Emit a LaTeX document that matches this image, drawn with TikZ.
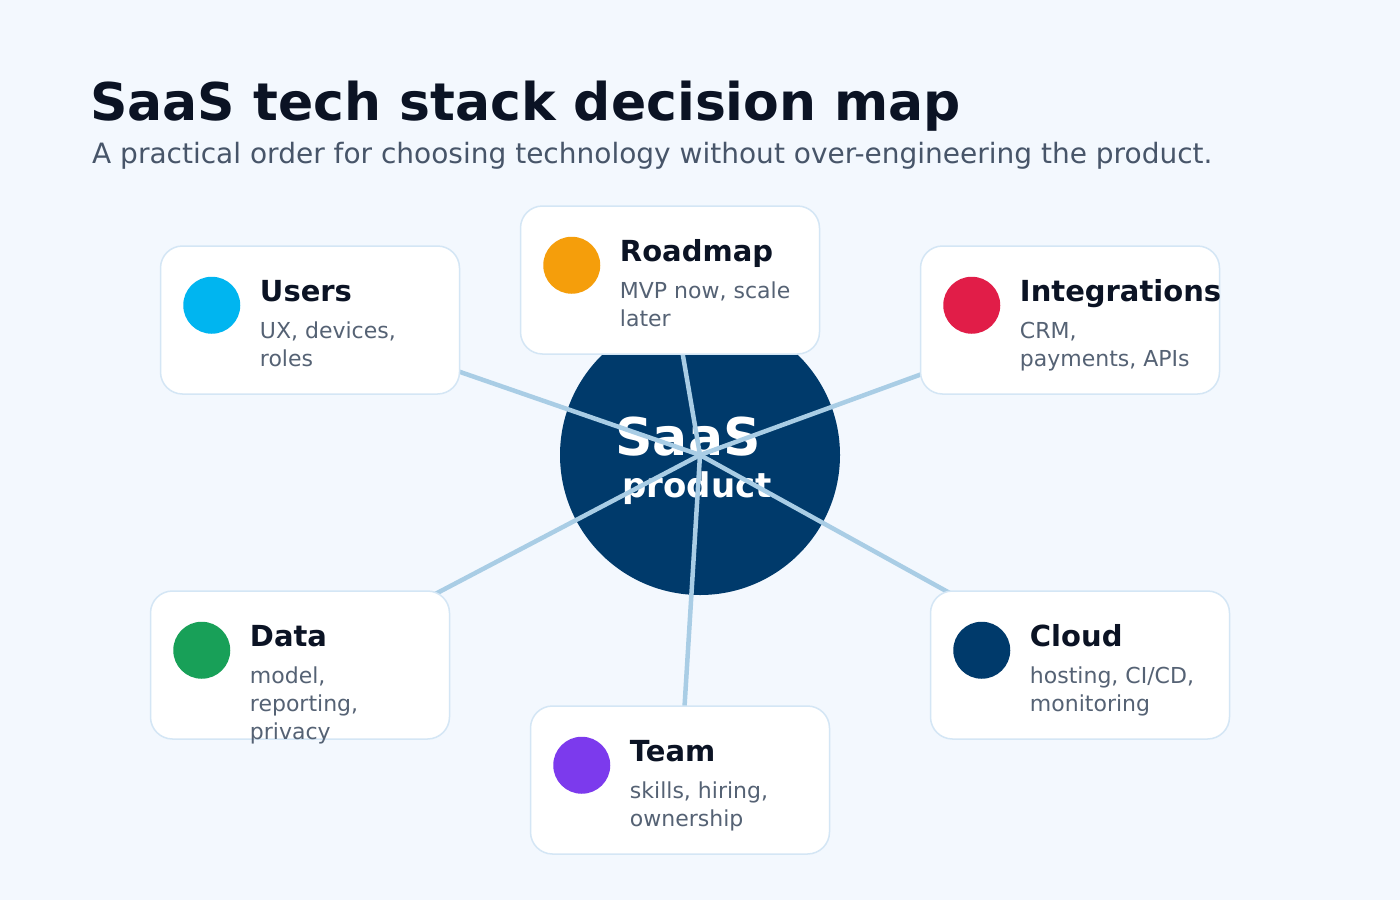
\documentclass[tikz,border=0pt]{standalone}
\usepackage{fontspec}
\setmainfont{DejaVu Sans}
\usetikzlibrary{positioning}
\definecolor{bgc}{HTML}{F3F8FE}
\definecolor{hubc}{HTML}{003A6B}
\definecolor{linkc}{HTML}{A9CDE5}
\definecolor{boxline}{HTML}{D4E6F5}
\definecolor{titlec}{HTML}{0B1324}
\definecolor{subc}{HTML}{475569}
\definecolor{descc}{HTML}{556274}
\definecolor{cusers}{HTML}{00B5F0}
\definecolor{croad}{HTML}{F59E0B}
\definecolor{cint}{HTML}{E11D48}
\definecolor{cdata}{HTML}{18A058}
\definecolor{cteam}{HTML}{7C3AED}
\definecolor{ccloud}{HTML}{003A6B}
\pgfdeclarelayer{back}
\pgfdeclarelayer{links}
\pgfsetlayers{back,links,main}
\tikzset{
  card/.style={draw=boxline, line width=1.5pt, fill=white, rounded corners=22pt,
    minimum width=299pt, minimum height=148pt, inner sep=0pt},
  dot/.style={circle, minimum size=57pt, inner sep=0pt},
  cardtitle/.style={anchor=base west, inner sep=0pt, text=titlec, font=\fontsize{29}{32}\selectfont\bfseries},
  carddesc/.style={anchor=base west, inner sep=0pt, text=descc, font=\fontsize{22}{28}\selectfont},
  link/.style={draw=linkc, line width=4.5pt},
}
\begin{document}
\begin{tikzpicture}[x=1pt,y=-1pt]
\useasboundingbox (0,0) rectangle (1400,900);
\begin{pgfonlayer}{back}
\fill[bgc] (0,0) rectangle (1400,900);
\node[circle, fill=hubc, minimum size=280pt, inner sep=0pt] (hub) at (700,455) {};
\node[anchor=base, inner sep=0pt, text=white, font=\fontsize{52}{56}\selectfont\bfseries] (hubt1) at (688,455) {SaaS};
\node[anchor=base, inner sep=0pt, text=white, font=\fontsize{34}{40}\selectfont\bfseries] (hubt2) at (697,497) {product};
\end{pgfonlayer}

\node[anchor=base west, inner sep=0pt, text=titlec, font=\fontsize{52}{60}\selectfont\bfseries] (title) at (90,120) {SaaS tech stack decision map};
\node[anchor=base west, inner sep=0pt, text=subc, font=\fontsize{28}{32}\selectfont] (subtitle) at (92,163) {A practical order for choosing technology without over-engineering the product.};

% cards
\node[card] (users) at (310,320) {};
\node[card] (road) at (670,280) {};
\node[card] (integ) at (1070,320) {};
\node[card] (data) at (300,665) {};
\node[card] (cloud) at (1080,665) {};
\node[card] (team) at (680,780) {};

\begin{pgfonlayer}{links}
\foreach \c in {users,road,integ,data,cloud,team}
  \draw[link] (hub.center) -- (\c.center);
\end{pgfonlayer}

% Users
\node[dot, fill=cusers] (usersdot) at ([shift={(52,60)}]users.north west) {};
\node[cardtitle] (userst) at ([shift={(100,56)}]users.north west) {Users};
\node[carddesc] (usersd1) at ([shift={(100,93)}]users.north west) {UX, devices,};
\node[carddesc] (usersd2) at ([shift={(100,121)}]users.north west) {roles};
% Roadmap
\node[dot, fill=croad] (roaddot) at ([shift={(52,60)}]road.north west) {};
\node[cardtitle] (roadt) at ([shift={(100,56)}]road.north west) {Roadmap};
\node[carddesc] (roadd1) at ([shift={(100,93)}]road.north west) {MVP now, scale};
\node[carddesc] (roadd2) at ([shift={(100,121)}]road.north west) {later};
% Integrations
\node[dot, fill=cint] (integdot) at ([shift={(52,60)}]integ.north west) {};
\node[cardtitle] (integt) at ([shift={(100,56)}]integ.north west) {Integrations};
\node[carddesc] (integd1) at ([shift={(100,93)}]integ.north west) {CRM,};
\node[carddesc] (integd2) at ([shift={(100,121)}]integ.north west) {payments, APIs};
% Data
\node[dot, fill=cdata] (datadot) at ([shift={(52,60)}]data.north west) {};
\node[cardtitle] (datat) at ([shift={(100,56)}]data.north west) {Data};
\node[carddesc] (datad1) at ([shift={(100,93)}]data.north west) {model,};
\node[carddesc] (datad2) at ([shift={(100,121)}]data.north west) {reporting,};
\node[carddesc] (datad3) at ([shift={(100,149)}]data.north west) {privacy};
% Cloud
\node[dot, fill=ccloud] (clouddot) at ([shift={(52,60)}]cloud.north west) {};
\node[cardtitle] (cloudt) at ([shift={(100,56)}]cloud.north west) {Cloud};
\node[carddesc] (cloudd1) at ([shift={(100,93)}]cloud.north west) {hosting, CI/CD,};
\node[carddesc] (cloudd2) at ([shift={(100,121)}]cloud.north west) {monitoring};
% Team
\node[dot, fill=cteam] (teamdot) at ([shift={(52,60)}]team.north west) {};
\node[cardtitle] (teamt) at ([shift={(100,56)}]team.north west) {Team};
\node[carddesc] (teamd1) at ([shift={(100,93)}]team.north west) {skills, hiring,};
\node[carddesc] (teamd2) at ([shift={(100,121)}]team.north west) {ownership};
\end{tikzpicture}
\end{document}
